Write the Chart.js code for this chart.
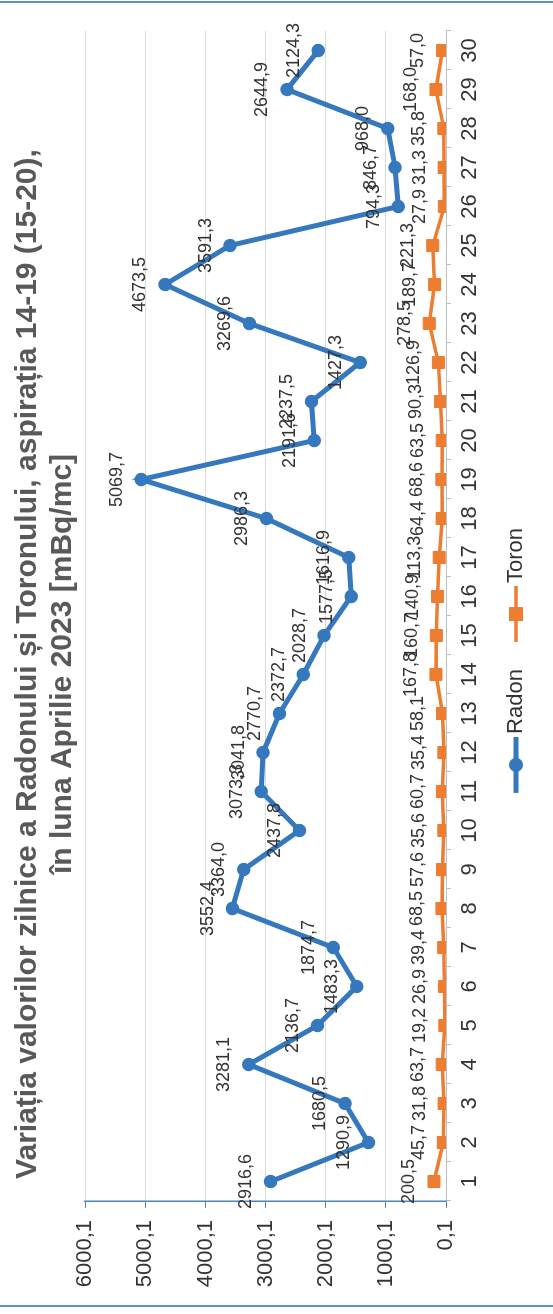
<!DOCTYPE html>
<html>
<head>
<meta charset="utf-8">
<title>Radon si Toron - Aprilie 2023</title>
<script src="https://cdn.jsdelivr.net/npm/chart.js@4.4.1/dist/chart.umd.min.js"></script>
<style>
  html, body { margin: 0; padding: 0; background: #fff; }
  body { width: 553px; height: 1314px; overflow: hidden; position: relative; }
  /* the chart is drawn landscape, then turned a quarter turn like the scanned page */
  #turn { position: absolute; left: 0; top: 0; width: 1314px; height: 553px;
          transform-origin: 0 0; transform: translate(0, 1314px) rotate(-90deg); }
  .rule { position: absolute; left: 0; width: 553px; height: 2px; background: #5b8fd0; }
</style>
</head>
<body>
<div class="rule" style="top:1px"></div>
<div class="rule" style="top:1305px"></div>
<div id="turn"><canvas id="chart" width="1314" height="553"></canvas></div>
<script>
// --- data ---
const days = ['1', '2', '3', '4', '5', '6', '7', '8', '9', '10',
  '11', '12', '13', '14', '15', '16', '17', '18', '19', '20',
  '21', '22', '23', '24', '25', '26', '27', '28', '29', '30'];

const radon = [2916.6, 1290.9, 1680.5, 3281.1, 2136.7, 1483.3, 1874.7, 3552.4, 3364.0, 2437.8,
  3073.3, 3041.8, 2770.7, 2372.7, 2028.7, 1577.5, 1616.9, 2986.3, 5069.7, 2191.6,
  2237.5, 1427.3, 3269.6, 4673.5, 3591.3, 794.3, 846.7, 968.0, 2644.9, 2124.3];

const toron = [200.5, 45.7, 31.8, 63.7, 19.2, 26.9, 39.4, 68.5, 57.6, 35.6,
  60.7, 35.4, 58.1, 167.8, 160.7, 140.9, 113.3, 64.4, 68.6, 63.5,
  90.3, 126.9, 278.5, 189.7, 221.3, 27.9, 31.3, 35.8, 168.0, 57.0];

const yTicks = [0.1, 1000.1, 2000.1, 3000.1, 4000.1, 5000.1, 6000.1];

const titleLines = [
  'Variația valorilor zilnice a Radonului și Toronului, aspirația 14-19 (15-20),',
  'în luna Aprilie 2023 [mBq/mc]'
];

// --- helpers ---
const FONT = '"Liberation Sans", Arial, sans-serif';
const BLUE = '#3578bd';
const ORANGE = '#ed7d31';

function fmt(v) {
  return v.toFixed(1).replace('.', ',');
}

// excel style legend mark: short line with the marker in the middle.
// the canvas is wider than the line so the line sits right next to the text
function legendMark(color, lineW, shape) {
  const c = document.createElement('canvas');
  c.width = 71; c.height = 18;
  const g = c.getContext('2d');
  g.strokeStyle = color;
  g.lineWidth = lineW;
  g.beginPath(); g.moveTo(15, 9); g.lineTo(71, 9); g.stroke();
  g.fillStyle = color;
  if (shape === 'circle') {
    g.beginPath(); g.arc(43, 9, 7, 0, Math.PI * 2); g.fill();
  } else {
    g.fillRect(36, 2, 14, 14);
  }
  return c;
}
const marks = [legendMark(BLUE, 5, 'circle'), legendMark(ORANGE, 3.5, 'rect')];

// value labels above each point
const valueLabels = {
  id: 'valueLabels',
  afterDatasetsDraw(chart) {
    const ctx = chart.ctx;
    ctx.save();
    ctx.font = '18px ' + FONT;
    ctx.fillStyle = '#333';
    ctx.textAlign = 'center';
    ctx.textBaseline = 'alphabetic';
    chart.data.datasets.forEach((ds, i) => {
      chart.getDatasetMeta(i).data.forEach((pt, j) => {
        ctx.fillText(fmt(ds.data[j]), pt.x, pt.y - 19.5);
      });
    });
    ctx.restore();
  }
};

// --- chart ---
new Chart(document.getElementById('chart'), {
  type: 'line',
  data: {
    labels: days,
    datasets: [
      {
        label: 'Radon',
        data: radon,
        borderColor: BLUE,
        backgroundColor: BLUE,
        borderWidth: 5,
        pointStyle: 'circle',
        pointRadius: 6,
        pointBorderWidth: 1.5,
        pointBackgroundColor: BLUE,
        tension: 0
      },
      {
        label: 'Toron',
        data: toron,
        borderColor: ORANGE,
        backgroundColor: ORANGE,
        borderWidth: 3.5,
        pointStyle: 'rect',
        pointRadius: 8.5,
        pointBorderWidth: 1,
        pointBackgroundColor: ORANGE,
        tension: 0
      }
    ]
  },
  options: {
    responsive: false,
    animation: false,
    devicePixelRatio: 1,
    layout: { padding: { left: 17, right: 31, top: 0, bottom: 16 } },
    plugins: {
      tooltip: { enabled: false },
      title: {
        display: true,
        text: titleLines,
        color: '#595959',
        font: { family: FONT, size: 30, weight: 'bold', lineHeight: 1.17 },
        padding: { top: 10, bottom: 5 }
      },
      legend: {
        position: 'bottom',
        labels: {
          usePointStyle: true,
          pointStyleWidth: 55,
          padding: 20,
          color: '#333',
          font: { family: FONT, size: 22 },
          generateLabels(chart) {
            const items = Chart.defaults.plugins.legend.labels.generateLabels(chart);
            items.forEach((it, i) => { it.pointStyle = marks[i]; });
            return items;
          }
        }
      }
    },
    scales: {
      x: {
        type: 'category',
        offset: true,
        grid: { display: true, offset: true, drawOnChartArea: false, tickLength: 5, color: '#bfbfbf' },
        border: { color: '#bfbfbf', width: 1 },
        ticks: { color: '#333', font: { family: FONT, size: 22 }, padding: 6, maxRotation: 0, autoSkip: false },
        afterFit(scale) { scale.height = 39; }
      },
      y: {
        min: 0.1,
        max: 6000.1,
        afterBuildTicks(scale) { scale.ticks = yTicks.map(v => ({ value: v })); },
        grid: { color: '#d9d9d9', lineWidth: 1, tickLength: 7, tickColor: '#4f86c6' },
        border: { color: '#4f86c6', width: 1.5 },
        ticks: { color: '#333', font: { family: FONT, size: 22 }, padding: 12, callback: v => fmt(v) },
        afterFit(scale) { scale.width = 96; }
      }
    }
  },
  plugins: [valueLabels]
});
</script>
</body>
</html>
